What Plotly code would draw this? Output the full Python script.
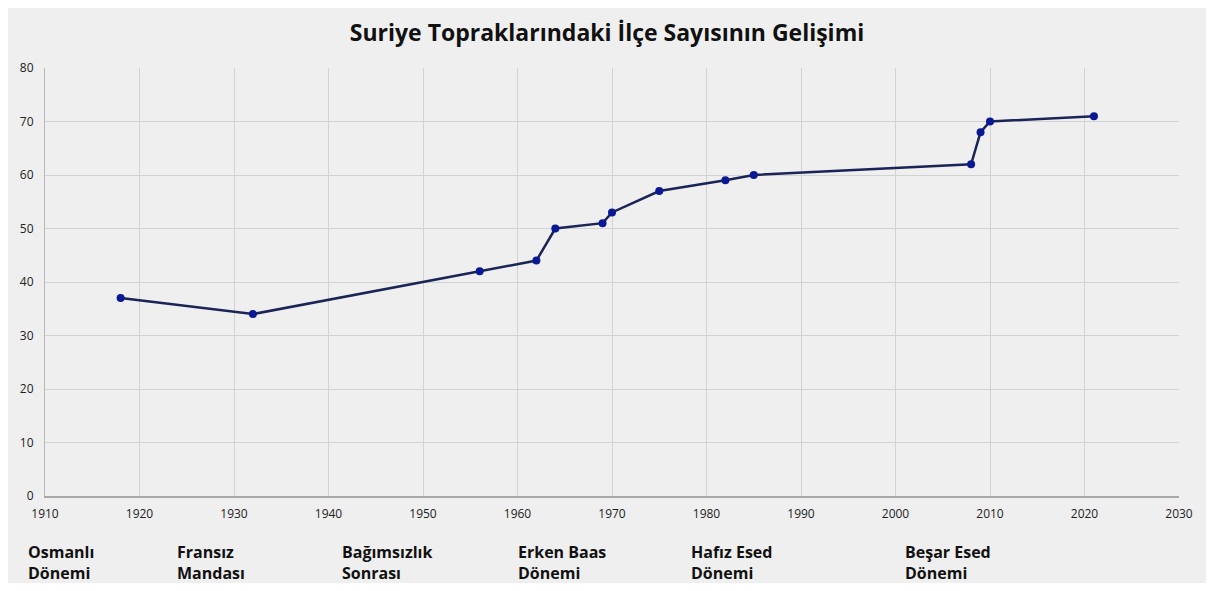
import plotly.graph_objects as go

years = [1918, 1932, 1956, 1962, 1964, 1969, 1970, 1975, 1982, 1985, 2008, 2009, 2010, 2021]
districts = [37, 34, 42, 44, 50, 51, 53, 57, 59, 60, 62, 68, 70, 71]

period_labels = ["Osmanlı<br>Dönemi", "Fransız<br>Mandası", "Bağımsızlık<br>Sonrası",
                 "Erken Baas<br>Dönemi", "Hafız Esed<br>Dönemi", "Beşar Esed<br>Dönemi"]
period_anchor_years = [1908.0, 1923.8, 1941.2, 1959.8, 1978.1, 2000.8]

title_text = "Suriye Topraklarındaki İlçe Sayısının Gelişimi"

X_MIN, X_MAX = 1910, 2030
BG = "#efefef"
FONT = "Open Sans"

fig = go.Figure()
fig.add_trace(go.Scatter(
    x=years, y=districts, mode="lines+markers",
    line=dict(color="#1b2457", width=2.5),
    marker=dict(color="#0a1896", size=8),
    showlegend=False,
))

for lab, yr in zip(period_labels, period_anchor_years):
    fig.add_annotation(
        x=(yr - X_MIN) / (X_MAX - X_MIN), xref="paper", y=-0.1, yref="paper",
        text=lab, showarrow=False, xanchor="left", yanchor="top", align="left",
        font=dict(family=FONT, size=16, color="#111111", weight="bold"),
    )

fig.update_layout(
    width=1198, height=575,
    paper_bgcolor=BG, plot_bgcolor=BG,
    margin=dict(l=33, r=27, t=60, b=87),
    title=dict(text=title_text, x=0.5, xanchor="center", y=0.956, yanchor="middle",
               font=dict(family=FONT, size=23, color="#111111", weight="bold")),
    xaxis=dict(range=[X_MIN, X_MAX], tickmode="linear", tick0=1910, dtick=10,
               showgrid=True, gridcolor="#d2d2d2", gridwidth=1,
               showline=True, linecolor="#a8a8a8", linewidth=1.5,
               zeroline=False, ticks="", ticklabelstandoff=6,
               tickfont=dict(family=FONT, size=12, color="#222222")),
    yaxis=dict(range=[0, 80], tickmode="linear", tick0=0, dtick=10,
               showgrid=True, gridcolor="#d2d2d2", gridwidth=1,
               showline=True, linecolor="#b8b8b8", linewidth=1,
               zeroline=False, ticks="", ticklabelstandoff=8,
               tickfont=dict(family=FONT, size=12, color="#222222")),
)

fig.write_html("out.html")
